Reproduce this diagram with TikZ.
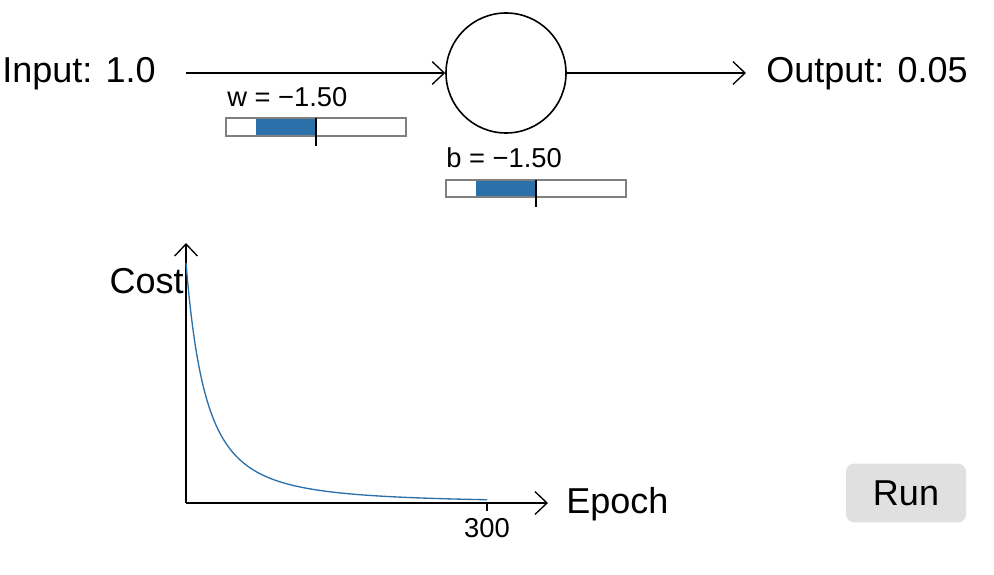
\documentclass[tikz,border=0pt]{standalone}
\usepackage{fontspec}
\setmainfont{Liberation Sans}
\usetikzlibrary{arrows.meta}
\definecolor{sliderblue}{RGB}{44,112,170}
\definecolor{slidergray}{RGB}{128,128,128}
\definecolor{btngray}{RGB}{224,224,224}
\tikzset{
  bigtext/.style={font=\fontsize{27}{31}\selectfont, inner sep=0pt},
  smalltext/.style={font=\fontsize{20.5}{24}\selectfont, inner sep=0pt},
  chev/.style={-{Straight Barb[length=9pt,width=17pt,line width=1pt]}, line width=1pt},
  sliderbox/.style={draw=slidergray, line width=1.2pt, fill=white},
  sliderfill/.style={fill=sliderblue},
  slidertick/.style={draw=black, line width=1.2pt},
  neuron/.style={circle, draw, line width=1.2pt, minimum size=90pt, inner sep=0pt},
  costline/.style={draw=sliderblue, line width=1pt},
}
\begin{document}
\begin{tikzpicture}[x=0.75pt,y=-0.75pt]
\useasboundingbox (0,0) rectangle (994,574);
% neuron and I/O
\node[neuron] (n) at (506,73) {};
\node[bigtext, anchor=base west] (in) at (2,83) {Input: 1.0};
\node[bigtext, anchor=base west] (out) at (766,83) {Output: 0.05};
\coordinate (inS) at (186,73);
\coordinate (outE) at (746,73);
\draw[chev] (inS) -- (n.west);
\draw[chev] (n.east) -- (outE);
% w slider
\node[smalltext, anchor=base west] (wl) at (227,107) {w = −1.50};
\draw[sliderbox] (226,118) rectangle (406,136);
\fill[sliderfill] (256,118.6) rectangle (316,135.4);
\draw[sliderbox, fill=none] (226,118) rectangle (406,136);
\draw[slidertick] (316,118) -- (316,146);
% b slider
\node[smalltext, anchor=base west] (bl) at (446,167) {b = −1.50};
\draw[sliderbox] (446,180) rectangle (626,197);
\fill[sliderfill] (476,180.6) rectangle (536,196.4);
\draw[sliderbox, fill=none] (446,180) rectangle (626,197);
\draw[slidertick] (536,180) -- (536,207);
% axes
\coordinate (o) at (186,503);
\coordinate (ytop) at (186,243);
\coordinate (xend) at (548,503);
\draw[chev] (o) -- (ytop);
\draw[chev] (o) -- (xend);
\node[bigtext, anchor=base east] (cost) at (184,293) {Cost};
\node[bigtext, anchor=base west] (ep) at (566,513) {Epoch};
\coordinate (t300) at (487,503);
\draw[line width=1pt] (t300) -- (487,511);
\node[smalltext, anchor=base] (l300) at (487,537) {300};
% cost curve
\draw[costline] plot[domain=0:300, samples=200, smooth] ({186+\x*1.00333}, {503-240/((1+\x/39.6)*(1+\x/39.6))});
% run button
\node[bigtext, fill=btngray, rounded corners=6pt, minimum width=90pt, minimum height=44pt] (run) at (906,493) {Run};
\end{tikzpicture}
\end{document}
